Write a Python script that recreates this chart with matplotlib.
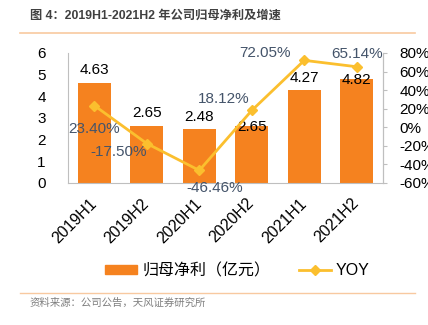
import matplotlib.pyplot as plt
from matplotlib.lines import Line2D
from matplotlib.patches import Patch

plt.rcParams['font.family'] = ['Liberation Sans', 'Noto Sans CJK SC', 'DejaVu Sans']

periods = ['2019H1', '2019H2', '2020H1', '2020H2', '2021H1', '2021H2']
profit = [4.63, 2.65, 2.48, 2.65, 4.27, 4.82]
yoy = [23.40, -17.50, -46.46, 18.12, 72.05, 65.14]

# label offsets in points (dx, dy) so labels avoid each other as in the source
profit_off = [(0, 9), (0, 9), (0, 9), (0, -1), (0, 9), (0, -1)]
yoy_off = [(0, -17), (-20, -6), (11, -13), (-20, 8), (-28, 5), (0, 9)]

bar_color = '#F5821F'
line_color = '#FBBF2E'
label_color = '#44546A'
axis_color = '#BFBFBF'

fig = plt.figure(figsize=(4.28, 3.25), dpi=100)
ax = fig.add_axes([0.159, 0.437, 0.736, 0.4])
x = range(len(periods))

ax.bar(x, profit, width=0.63, color=bar_color, zorder=2)
ax.set_ylim(0, 6)
ax.set_xlim(-0.5, len(periods) - 0.5)
ax.set_yticks(range(0, 7))
ax.tick_params(axis='y', length=0, pad=16, labelsize=11)
ax.tick_params(axis='x', length=0, pad=13, labelsize=11.5)
ax.set_xticks(list(x))
ax.set_xticklabels(periods, rotation=45, ha='right', va='center',
                   rotation_mode='anchor')
ax.spines['top'].set_visible(False)
for s in ['left', 'bottom', 'right']:
    ax.spines[s].set_color(axis_color)

for i, v in enumerate(profit):
    ax.annotate(f'{v:.2f}', (i, v), xytext=profit_off[i], textcoords='offset points',
                ha='center', va='center', fontsize=11, color='black', zorder=5)

ax2 = ax.twinx()
ax2.set_ylim(-60, 80)
ax2.set_yticks(range(-60, 81, 20))
ax2.set_yticklabels([f'{t}%' for t in range(-60, 81, 20)])
ax2.tick_params(axis='y', length=3, color=axis_color, pad=9, labelsize=11)
for s in ['top', 'left', 'bottom']:
    ax2.spines[s].set_visible(False)
ax2.spines['right'].set_color(axis_color)
ax2.plot(list(x), yoy, color=line_color, lw=2, marker='D', ms=5, zorder=3)
for i, v in enumerate(yoy):
    ax2.annotate(f'{v:.2f}%', (i, v), xytext=yoy_off[i], textcoords='offset points',
                 ha='center', va='center', fontsize=11, color=label_color, zorder=5)

handles = [Patch(color=bar_color, label='归母净利（亿元）'),
           Line2D([], [], color=line_color, lw=2, marker='D', ms=5, label='YOY')]
fig.legend(handles=handles, loc='center', bbox_to_anchor=(0.555, 0.168), ncol=2,
           frameon=False, fontsize=11.5, handlelength=2.0, columnspacing=1.8,
           handletextpad=0.3, handleheight=0.5)

fig.text(0.07, 0.953, '图 4：2019H1-2021H2 年公司归母净利及增速', fontsize=8.8,
         fontweight='bold', color='#404040', va='center')
fig.add_artist(Line2D([0.047, 0.97], [0.898, 0.898], color='#F8C9A0', lw=1.2))
fig.add_artist(Line2D([0.047, 0.97], [0.098, 0.098], color='#F8C9A0', lw=1.0))
fig.text(0.07, 0.068, '资料来源：公司公告，天风证券研究所', fontsize=7.5,
         color='#7F7F7F', va='center')

fig.savefig('out.png', dpi=100)
